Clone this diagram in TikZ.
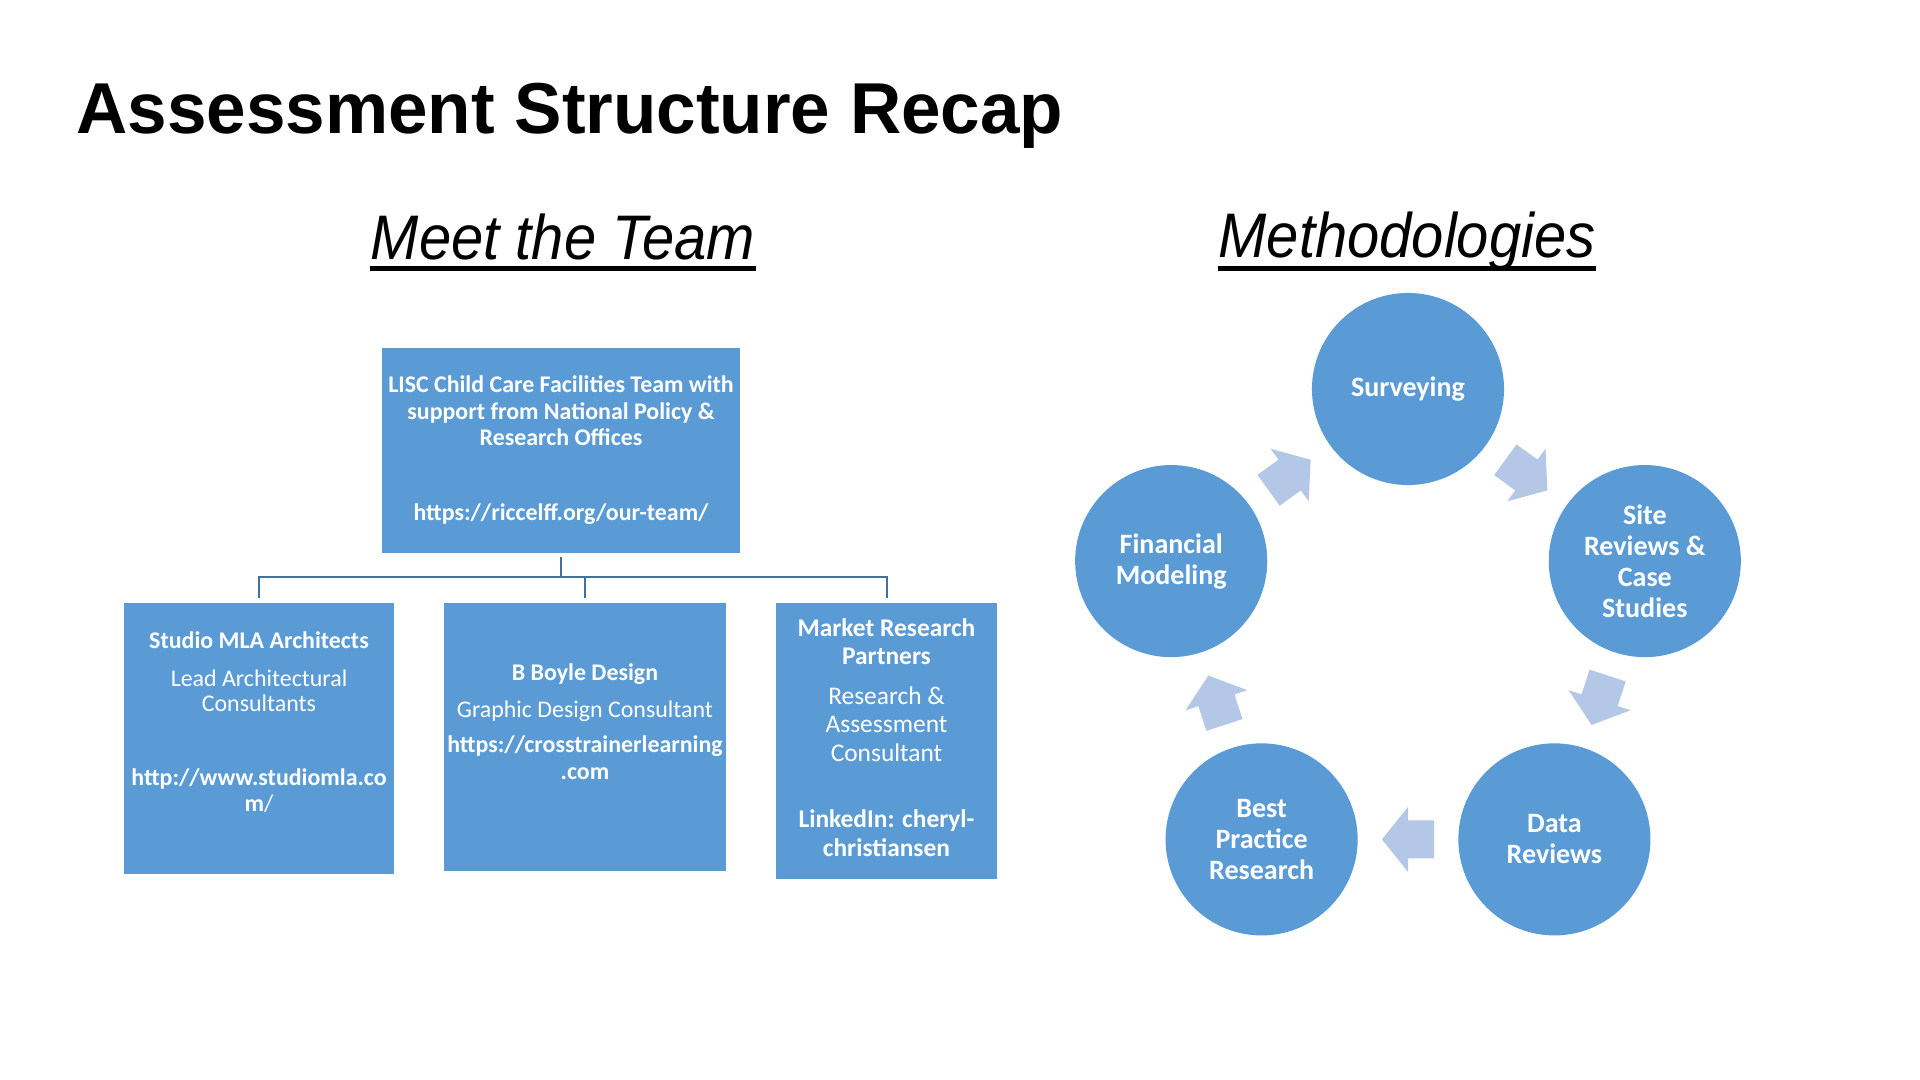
\documentclass[tikz,border=0pt]{standalone}
\usepackage{fontspec}
\setmainfont{Carlito}
\newfontfamily\titlefont[FakeStretch=0.985]{Liberation Sans}
\newfontfamily\headfont[FakeStretch=0.92]{Liberation Sans}
\definecolor{boxblue}{RGB}{91,155,213}
\definecolor{lineblue}{RGB}{65,113,156}
\definecolor{arrowblue}{RGB}{180,199,231}
\usepackage{xcolor}
\usepackage{tikz}
\usetikzlibrary{calc}

\begin{document}
\begin{tikzpicture}[x=0.01cm,y=-0.01cm,
      tb/.style={fill=boxblue,inner sep=0,align=center,text=white,
                 font=\fontsize{6.8}{7.54}\selectfont\bfseries},
      mc/.style={circle,fill=boxblue,minimum size=1.92cm,inner sep=0,
                 align=center,text=white,font=\fontsize{7.97}{8.8}\selectfont\bfseries},
      ol/.style={draw=lineblue,line width=0.02cm,shorten <=0.03cm,shorten >=0.04cm},
      hd/.style={anchor=base,inner sep=0,font=\headfont\itshape\fontsize{17.9}{20}\selectfont},
      ul/.style={line width=0.045cm},
      blockarrow/.pic={\fill[arrowblue] (-26,-19) -- (0,-19) -- (0,-32.5) -- (26,0)
                        -- (0,32.5) -- (0,19) -- (-26,19) -- cycle;}]
  \path[use as bounding box,fill=white] (0,0) rectangle (1920,1080);

  \node[anchor=base west,inner sep=0,font=\titlefont\bfseries\fontsize{20.5}{24}\selectfont]
    (title) at (76,134) {Assessment Structure Recap};

  % headings
  \node[hd] (meet) at (563,260) {Meet the Team};
  \node[hd] (meth) at (1407,258) {Methodologies};
  \draw[ul] (meet.base west |- 0,268.5) -- (meet.base east |- 0,268.5);
  \draw[ul] (meth.base west |- 0,268.5) -- (meth.base east |- 0,268.5);

  % team boxes
  \node[tb,minimum width=3.58cm,minimum height=2.05cm] (lisc) at (561,450.5)
    {LISC Child Care Facilities Team with\\ support from National Policy \&\\
     Research Offices\\[13.8pt] https://riccelff.org/our-team/};
  \node[tb,minimum width=2.70cm,minimum height=2.71cm] (mla) at (259,738.5)
    {Studio MLA Architects\\[3.3pt] {\mdseries Lead Architectural}\\[-0.4pt]
     {\mdseries Consultants}\\[13.5pt] http://www.studiomla.co\\ m{\mdseries/}\\[2.1pt]\mbox{}};
  \node[tb,minimum width=2.82cm,minimum height=2.68cm] (byd) at (585,737)
    {B Boyle Design\\[3pt] {\mdseries Graphic Design Consultant}\\[2.4pt]
     https://crosstrainerlearning\\ .com\\[1.3pt]\mbox{}};
  \node[tb,minimum width=2.21cm,minimum height=2.76cm,
        font=\fontsize{7.23}{7.97}\selectfont\bfseries] (mrp) at (886.5,741)
    {Market Research\\ Partners\\[3.4pt] {\mdseries Research \&}\\ {\mdseries Assessment}\\[0.3pt]
     {\mdseries Consultant}\\[10.8pt] LinkedIn: cheryl-\\ christiansen\\[-6pt]\mbox{}};

  \coordinate (bus) at (561,577);
  \draw[ol] (lisc.south) -- (lisc.south |- bus) -| (mla.north);
  \draw[ol] (lisc.south) -- (lisc.south |- bus) -| (byd.north);
  \draw[ol] (lisc.south) -- (lisc.south |- bus) -| (mrp.north);

  % methodology cycle
  \node[mc] (sv) at (1408,389) {Surveying};
  \node[mc] (srv) at (1644.8,561.1) {Site\\ Reviews \&\\ Case\\ Studies};
  \node[mc] (dr) at (1554.4,839.4) {Data\\ Reviews};
  \node[mc] (bpr) at (1261.6,839.4) {Best\\ Practice\\ Research};
  \node[mc] (fm) at (1171.2,561.1) {Financial\\ Modeling};

  \pic[rotate=-36] at ($(sv)!0.5!(srv)$) {blockarrow};
  \pic[rotate=-108] at ($(srv)!0.5!(dr)$) {blockarrow};
  \pic[rotate=180] at ($(dr)!0.5!(bpr)$) {blockarrow};
  \pic[rotate=108] at ($(bpr)!0.5!(fm)$) {blockarrow};
  \pic[rotate=36] at ($(fm)!0.5!(sv)$) {blockarrow};
\end{tikzpicture}
\end{document}
